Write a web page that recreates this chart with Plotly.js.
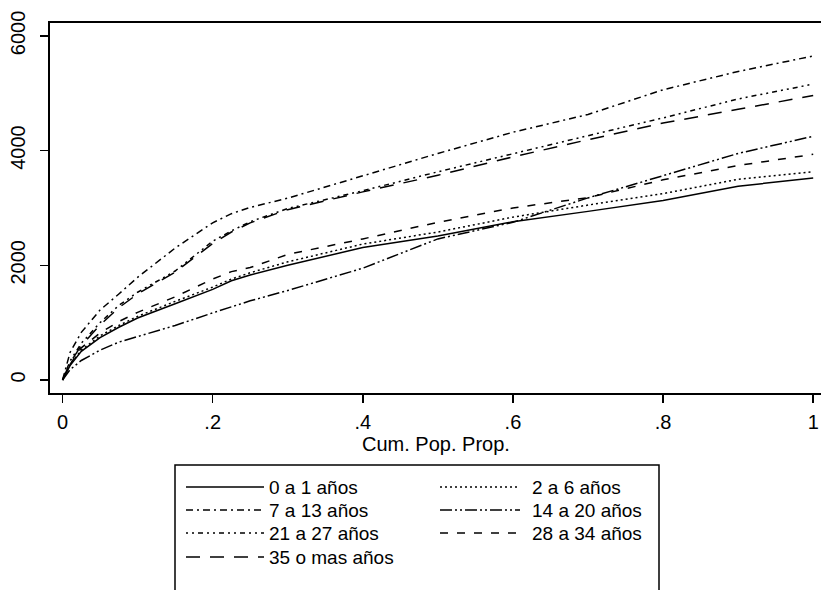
<!DOCTYPE html>
<html>
<head>
<meta charset="utf-8">
<script src="https://cdn.plot.ly/plotly-3.0.1.min.js"></script>
<style>html,body{margin:0;padding:0;background:#fff;}#chart{width:821px;height:590px;}</style>
</head>
<body>
<div id="chart"></div>
<script>
// Cumulative population proportion (x) shared by every series
const popProp = [0, 0.01, 0.025, 0.05, 0.075, 0.1, 0.15, 0.2, 0.225, 0.25, 0.3, 0.4, 0.5, 0.6, 0.7, 0.8, 0.9, 1.0];

const seriesNames = ["0 a 1 años", "2 a 6 años", "7 a 13 años", "14 a 20 años", "21 a 27 años", "28 a 34 años", "35 o mas años"];

const v0a1   = [0, 250, 500, 740, 920, 1080, 1330, 1580, 1730, 1830, 2000, 2310, 2510, 2760, 2940, 3130, 3380, 3520];
const v2a6   = [0, 270, 520, 770, 950, 1110, 1370, 1620, 1760, 1870, 2060, 2370, 2580, 2840, 3050, 3250, 3500, 3630];
const v7a13  = [0, 480, 830, 1220, 1500, 1790, 2300, 2740, 2900, 3010, 3170, 3565, 3950, 4320, 4630, 5060, 5380, 5650];
const v14a20 = [0, 180, 340, 520, 660, 760, 950, 1170, 1270, 1380, 1560, 1950, 2460, 2750, 3175, 3560, 3950, 4250];
const v21a27 = [0, 330, 640, 1000, 1300, 1530, 1900, 2420, 2600, 2760, 2990, 3300, 3630, 3950, 4260, 4570, 4900, 5160];
const v28a34 = [0, 270, 560, 820, 1020, 1180, 1450, 1760, 1890, 1960, 2190, 2460, 2750, 3000, 3180, 3490, 3740, 3935];
const v35mas = [0, 300, 600, 960, 1260, 1500, 1880, 2380, 2580, 2740, 2970, 3280, 3570, 3890, 4190, 4480, 4720, 4960];

const seriesValues = [v0a1, v2a6, v7a13, v14a20, v21a27, v28a34, v35mas];
const dashes = ["solid", "2px,3px", "7px,4px,2px,4px", "12px,3px,2px,3px,2px,3px", "2px,4px,2px,4px,5px,4px", "8px,9px", "14px,10px"];

const xTickVals = [0, 0.2, 0.4, 0.6, 0.8, 1];
const xTickText = ["0", ".2", ".4", ".6", ".8", "1"];
const yTickVals = [0, 2000, 4000, 6000];
const xTitle = "Cum. Pop. Prop.";

// Figure geometry (pixels) used to place the boxed two-column legend
const W = 821, H = 590;
const M = {l: 50, r: 0, t: 23, b: 197};
const plotW = W - M.l - M.r, plotH = H - M.t - M.b;
const px2x = px => (px - M.l) / plotW;
const py2y = py => (H - M.b - py) / plotH;

const traces = seriesNames.map((name, i) => ({
  type: "scatter",
  mode: "lines",
  name: name,
  x: popProp,
  y: seriesValues[i],
  line: {color: "#000", width: 1.5, dash: dashes[i]},
  showlegend: false
}));

const fam = "Arial, 'Liberation Sans', sans-serif";
const font = {family: fam, size: 20, color: "#000"};

// Legend (drawn as shapes + text annotations to reproduce the long line samples)
const legCols = [{lx0: 186, lx1: 264, tx: 267}, {lx0: 440, lx1: 520, tx: 530}];
const legRowY = [487, 510, 533, 557];
const shapes = [{
  type: "rect", xref: "paper", yref: "paper",
  x0: px2x(175), x1: px2x(659), y0: py2y(465), y1: py2y(600),
  line: {color: "#000", width: 1.5}, fillcolor: "rgba(0,0,0,0)"
}];
const annotations = [{
  text: xTitle, xref: "paper", yref: "paper",
  x: 0.5, y: py2y(444), xanchor: "center", yanchor: "middle",
  showarrow: false, font: font
}];
seriesNames.forEach((name, i) => {
  const col = legCols[i % 2], yy = py2y(legRowY[Math.floor(i / 2)]);
  shapes.push({
    type: "line", xref: "paper", yref: "paper",
    x0: px2x(col.lx0), x1: px2x(col.lx1), y0: yy, y1: yy,
    line: {color: "#000", width: 1.5, dash: dashes[i]}
  });
  annotations.push({
    text: name, xref: "paper", yref: "paper",
    x: px2x(col.tx), y: yy, xanchor: "left", yanchor: "middle",
    showarrow: false, font: {family: fam, size: 19, color: "#000"}
  });
});

const layout = {
  width: W, height: H,
  margin: {l: M.l, r: M.r, t: M.t, b: M.b, autoexpand: false},
  paper_bgcolor: "#fff", plot_bgcolor: "#fff",
  font: font,
  showlegend: false,
  xaxis: {
    range: [-0.0167, 1.0104],
    tickvals: xTickVals, ticktext: xTickText,
    ticks: "outside", ticklen: 8, tickwidth: 1.5, tickcolor: "#000",
    showline: true, linecolor: "#000", linewidth: 2, mirror: true,
    showgrid: false, zeroline: false, automargin: false,
    tickfont: font,
    ticklabelstandoff: 2
  },
  yaxis: {
    range: [-227, 6225],
    tickvals: yTickVals,
    tickangle: -90,
    ticks: "outside", ticklen: 8, tickwidth: 1.5, tickcolor: "#000",
    showline: true, linecolor: "#000", linewidth: 2,
    showgrid: false, zeroline: false, automargin: false,
    tickfont: font,
    ticklabelstandoff: 7
  },
  shapes: shapes,
  annotations: annotations
};

Plotly.newPlot("chart", traces, layout, {displayModeBar: false, staticPlot: true});
</script>
</body>
</html>
